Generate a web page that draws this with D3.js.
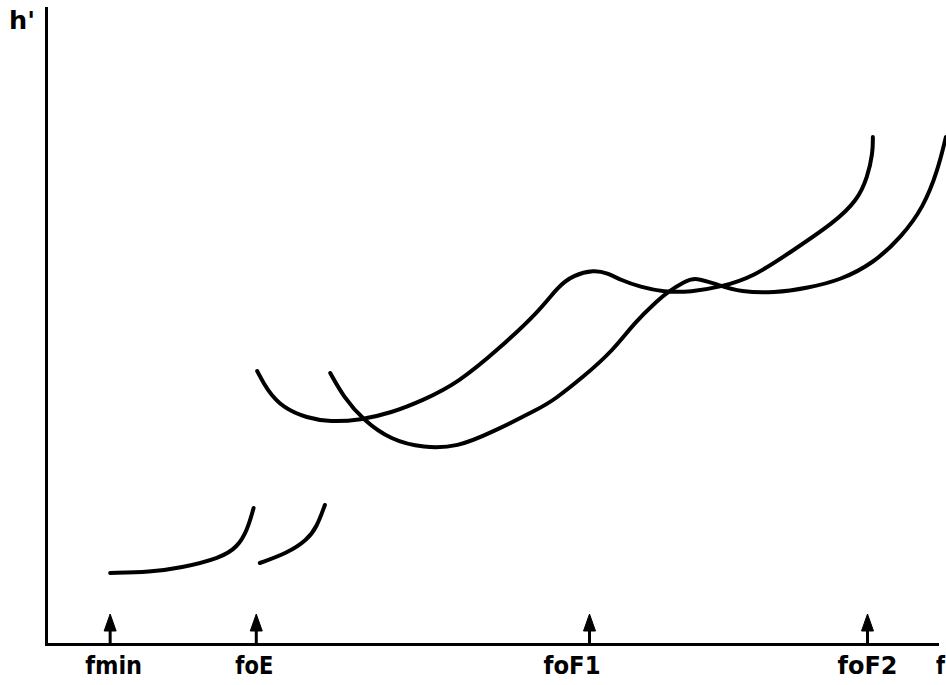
<!DOCTYPE html>
<html>
<head>
<meta charset="utf-8">
<script src="https://cdn.jsdelivr.net/npm/d3@7"></script>
<style>
  html, body { margin: 0; padding: 0; background: #fff; }
  svg { display: block; }
  .lbl { font-family: "DejaVu Sans", sans-serif; font-weight: bold; font-size: 24px; fill: #000; }
</style>
</head>
<body>
<svg id="chart" width="946" height="685"></svg>
<script>
// Sketch ionogram: virtual height h' against sounding frequency f.
// Frequencies in MHz-like units, virtual heights in arbitrary km-like units.

// Critical frequencies marked by arrows on the frequency axis
const criticalNames = ["fmin", "foE", "foF1", "foF2"];
const criticalFreqs = [0.72, 2.36, 6.10, 9.22];

// E-layer ordinary trace
const traceEoF = [0.72, 1.17, 1.51, 1.96, 2.15, 2.26, 2.33];
const traceEoH = [71, 72, 76, 86, 97, 114, 136];

// E-layer extraordinary trace
const traceExF = [2.40, 2.71, 2.93, 3.04, 3.13];
const traceExH = [81, 91, 104, 117, 139];

// F-layer ordinary trace (F1 cusp, then F2 up to foF2)
const traceFoF = [2.37, 2.48, 2.66, 2.93, 3.19, 3.53, 3.87, 4.24, 4.62, 5.07, 5.55, 5.74, 5.92, 6.15,
                  6.30, 6.45, 6.67, 6.93, 7.24, 7.57, 7.94, 8.39, 8.84, 9.11, 9.22, 9.28, 9.28];
const traceFoH = [273, 254, 236, 226, 222, 224, 231, 244, 261, 294, 334, 357, 369, 374,
                  371, 364, 357, 352, 352, 357, 367, 394, 421, 444, 467, 491, 507];

// F-layer extraordinary trace
const traceFxF = [3.19, 3.34, 3.56, 3.87, 4.24, 4.62, 4.99, 5.55, 5.70, 6.03, 6.37, 6.60, 6.87,
                  6.98, 7.16, 7.29, 7.54, 7.80, 8.17, 8.55, 8.92, 9.29, 9.60, 9.85, 10.01, 10.10];
const traceFxH = [271, 247, 224, 204, 196, 197, 211, 236, 244, 267, 294, 321, 344,
                  352, 362, 367, 359, 352, 351, 356, 364, 381, 407, 437, 474, 507];

const traces = [
  { f: traceEoF, h: traceEoH },
  { f: traceExF, h: traceExH },
  { f: traceFoF, h: traceFoH },
  { f: traceFxF, h: traceFxH }
];

const svg = d3.select("#chart");

const x = d3.scaleLinear().domain([0, 10]).range([46, 937]);
const y = d3.scaleLinear().domain([0, 636]).range([644, 8]);

// Axes: plain lines, no ticks or numbers
const xAxis = svg.append("g")
  .attr("transform", `translate(0,${y(0)})`)
  .call(d3.axisBottom(x).tickValues([]).tickSize(0).tickSizeOuter(0));
const yAxis = svg.append("g")
  .attr("transform", `translate(${x(0)},0)`)
  .call(d3.axisLeft(y).tickValues([]).tickSize(0).tickSizeOuter(0));
[xAxis, yAxis].forEach(g => g.select(".domain")
  .attr("stroke", "#000").attr("stroke-width", 3).attr("stroke-linecap", "square"));

// Arrows at the critical frequencies
const arrows = svg.append("g").selectAll("g")
  .data(criticalFreqs)
  .join("g")
  .attr("transform", d => `translate(${x(d)},${y(0)})`);
arrows.append("line")
  .attr("x1", 0).attr("x2", 0).attr("y1", 0).attr("y2", -16)
  .attr("stroke", "#000").attr("stroke-width", 3);
arrows.append("path")
  .attr("d", "M0,-30 L6,-13 L-6,-13 Z")
  .attr("fill", "#000").attr("stroke", "#000").attr("stroke-width", 1).attr("stroke-linejoin", "round");

// Labels below the arrows (horizontal shift and width per label)
const labelLayout = {
  fmin: { dx: 3.5, w: 57 },
  foE:  { dx: -2, w: 38 },
  foF1: { dx: -17.5, w: 57 },
  foF2: { dx: 0, w: 60 }
};
svg.append("g").selectAll("text")
  .data(criticalNames)
  .join("text")
  .attr("class", "lbl")
  .attr("x", (d, i) => x(criticalFreqs[i]) + labelLayout[d].dx - labelLayout[d].w / 2)
  .attr("y", 674)
  .attr("textLength", d => labelLayout[d].w)
  .attr("lengthAdjust", "spacingAndGlyphs")
  .text(d => d);

// Axis names
svg.append("text").attr("class", "lbl")
  .attr("x", 936).attr("y", 674)
  .attr("textLength", 9).attr("lengthAdjust", "spacingAndGlyphs")
  .text("f");
svg.append("text").attr("class", "lbl")
  .attr("x", 9).attr("y", 29)
  .attr("textLength", 26).attr("lengthAdjust", "spacingAndGlyphs")
  .text("h'");

// Echo traces, smoothed with a B-spline through the sampled points
const line = d3.line()
  .x(p => x(p[0]))
  .y(p => y(p[1]))
  .curve(d3.curveBasis);

svg.append("g").selectAll("path")
  .data(traces)
  .join("path")
  .attr("d", t => line(d3.zip(t.f, t.h)))
  .attr("fill", "none")
  .attr("stroke", "#000")
  .attr("stroke-width", 4)
  .attr("stroke-linecap", "round")
  .attr("stroke-linejoin", "round");
</script>
</body>
</html>
